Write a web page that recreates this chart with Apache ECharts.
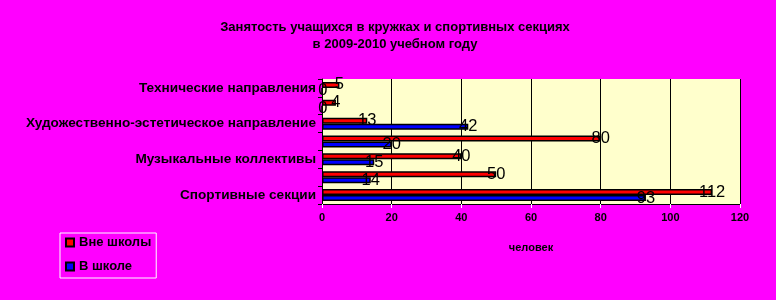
<!DOCTYPE html>
<html><head><meta charset="utf-8">
<script src="https://cdn.jsdelivr.net/npm/echarts@6/dist/echarts.min.js"></script>
<style>html,body{margin:0;padding:0;background:#ff00ff}#c{width:776px;height:300px}</style>
</head><body><div id="c"></div>
<script>
const categories = [
  "Технические направления",
  "Эколого-биологическое направление",
  "Художественно-эстетическое направление",
  "Танцевальные коллективы",
  "Музыкальные коллективы",
  "Туристско-краеведческое направление",
  "Спортивные секции"
];
const outsideSchool = [5, 4, 13, 80, 40, 50, 112];
const inSchool = [0, 0, 42, 20, 15, 14, 93];
const xTicks = [0, 20, 40, 60, 80, 100, 120];

const sh = {textShadowColor:'#ffffff', textShadowOffsetX:-1, textShadowOffsetY:-1, textShadowBlur:0};
const chart = echarts.init(document.getElementById('c'), null, {renderer:'canvas'});
const lbl = {show:true, position:['100%','50%'], align:'center', verticalAlign:'middle',
  color:'#000', fontFamily:'Liberation Sans, Arial', fontSize:16.5};
chart.setOption({
  backgroundColor:'#ff00ff',
  animation:false,
  title:{
    text:'Занятость учащихся в кружках и спортивных секциях\nв 2009-2010 учебном году',
    left:390, top:14, textAlign:'center',
    textStyle:Object.assign({fontFamily:'Liberation Sans, Arial', fontSize:13, fontWeight:'bold', color:'#000', lineHeight:17}, sh)
  },
  legend:{
    orient:'vertical', left:60, top:233,
    padding:[3,5,5,5], itemGap:11, itemWidth:8, itemHeight:8, icon:'rect',
    borderColor:'#ffffff', borderWidth:1,
    textStyle:Object.assign({fontFamily:'Liberation Sans, Arial', fontSize:13, fontWeight:'bold', color:'#000'}, sh),
    data:['Вне школы','В школе']
  },
  grid:{left:322, right:36, top:79, bottom:96, show:true, backgroundColor:'#ffffcc', borderWidth:0},
  xAxis:{
    type:'value', min:xTicks[0], max:xTicks[xTicks.length-1], interval:20,
    name:'человек', nameLocation:'middle', nameGap:38,
    nameTextStyle:Object.assign({fontFamily:'Liberation Sans, Arial', fontSize:11, fontWeight:'bold', color:'#000'}, sh),
    axisLine:{show:true, lineStyle:{color:'#000', width:1}},
    axisTick:{show:true, length:4, lineStyle:{color:'#ffffff'}},
    axisLabel:Object.assign({fontFamily:'Liberation Sans, Arial', fontSize:11, fontWeight:'bold', color:'#000', margin:8}, sh),
    splitLine:{show:true, lineStyle:{color:'#000', width:1}}
  },
  yAxis:{
    type:'category', data:categories, inverse:true,
    axisLine:{show:true, lineStyle:{color:'#000', width:1}},
    axisTick:{show:true, length:4, interval:0, lineStyle:{color:'#000'}},
    axisLabel:Object.assign({interval:1, fontFamily:'Liberation Sans, Arial', fontSize:13.6, fontWeight:'bold', color:'#000', margin:6}, sh)
  },
  series:[
    {name:'Вне школы', type:'bar', data:outsideSchool, barWidth:6, barGap:'0%',
     itemStyle:{color:'#ff0000', borderColor:'#000', borderWidth:1.5}, label:lbl},
    {name:'В школе', type:'bar', data:inSchool, barWidth:6, barGap:'0%',
     itemStyle:{color:'#0000ff', borderColor:'#000', borderWidth:1.5}, label:lbl}
  ]
});
</script></body></html>
